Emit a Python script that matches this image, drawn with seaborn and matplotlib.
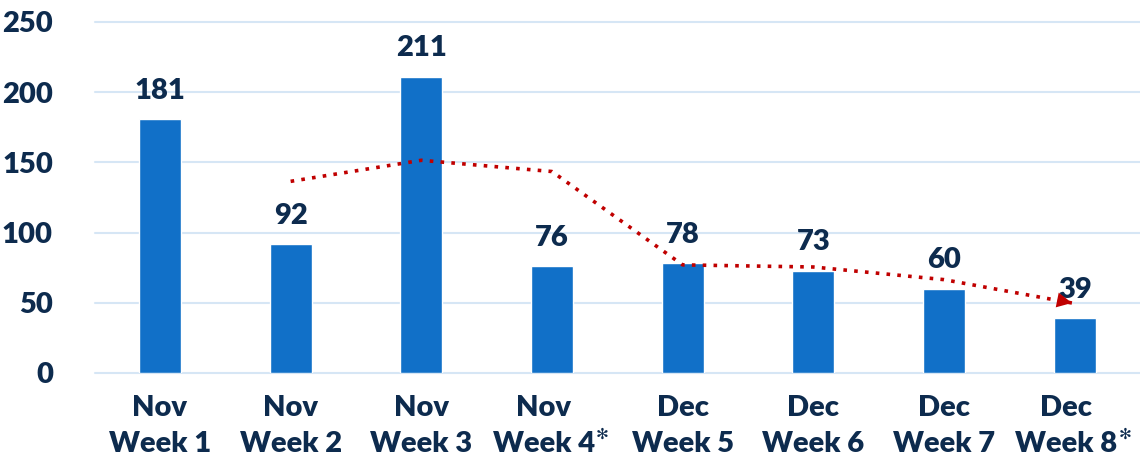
import pandas as pd
import matplotlib.pyplot as plt
import matplotlib.transforms as mtransforms
import seaborn as sns

# chart data
weeks = ['Nov\nWeek 1', 'Nov\nWeek 2', 'Nov\nWeek 3', 'Nov\nWeek 4',
         'Dec\nWeek 5', 'Dec\nWeek 6', 'Dec\nWeek 7', 'Dec\nWeek 8']
counts = [181, 92, 211, 76, 78, 73, 60, 39]
starred = [3, 7]  # weeks marked with an asterisk
y_ticks = [0, 50, 100, 150, 200, 250]

NAVY = '#0D2B4E'
BLUE = '#1170C8'
RED = '#C00000'

df = pd.DataFrame({'week': weeks, 'count': counts})
# 2-week moving average trend line
df['trend'] = df['count'].rolling(2).mean()

sns.set_theme(style='white')
plt.rcParams['font.family'] = ['Lato', 'DejaVu Sans']

fig = plt.figure(figsize=(11.4, 4.68), dpi=100)
ax = fig.add_axes([0.083, 0.203, 0.917, 0.750])

sns.barplot(data=df, x='week', y='count', color=BLUE, width=0.32,
            saturation=1, ax=ax, zorder=2)

# value labels
for i, v in enumerate(df['count']):
    ax.annotate(str(v), (i, v), xytext=(0, 11), textcoords='offset points',
                ha='center', va='bottom', fontsize=21, fontweight='heavy',
                color=NAVY)

# trend line with arrow head
tr = df.dropna()
ax.plot(tr.index, tr['trend'], linestyle=(0, (1, 2)), linewidth=2.6,
        color=RED, zorder=3)
last = tr.index[-1]
ax.annotate('', xy=(last, tr['trend'].iloc[-1]),
            xytext=(last - 0.15, tr['trend'].iloc[-1] + 2.8),
            arrowprops=dict(arrowstyle='-|>,head_length=0.9,head_width=0.45',
                            color=RED, lw=0), zorder=4)

ax.set_xlim(-0.5, 7.5)
ax.set_ylim(0, 250)
ax.set_yticks(y_ticks)
ax.yaxis.grid(True, color='#D6E6F5', linewidth=1.5, zorder=0)
ax.set_axisbelow(True)
for s in ax.spines.values():
    s.set_visible(False)
ax.set_xlabel('')
ax.set_ylabel('')
ax.tick_params(axis='both', length=0, labelsize=21, labelcolor=NAVY)
ax.tick_params(axis='y', pad=30)
ax.tick_params(axis='x', pad=16)
for lab in ax.get_xticklabels() + ax.get_yticklabels():
    lab.set_fontweight('heavy')
    lab.set_linespacing(1.45)
for g in ax.get_ygridlines():
    g.set_clip_on(False)

# small asterisk after the starred week labels
fig.canvas.draw()
xlabels = ax.get_xticklabels()
shift = mtransforms.ScaledTranslation(-6 / 72, 0, fig.dpi_scale_trans)
for i in starred:
    xlabels[i].set_transform(xlabels[i].get_transform() + shift)
    ax.annotate('\u273b', xy=(1, 0.36), xycoords=xlabels[i],
                xytext=(1, 0), textcoords='offset points',
                ha='left', va='center', fontsize=11, color=NAVY,
                family='DejaVu Sans', annotation_clip=False)

fig.savefig('out.png', dpi=100)
